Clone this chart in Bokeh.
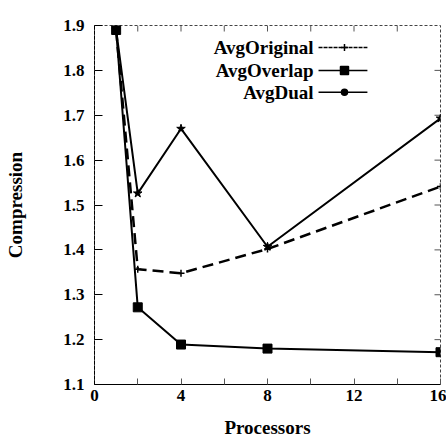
from bokeh.plotting import figure
from bokeh.models import Range1d, FixedTicker, Label
from bokeh.embed import file_html
from bokeh.resources import INLINE

# Compression achieved versus number of processors
processors = [1, 2, 4, 8, 16]
avg_original = [1.89, 1.357, 1.348, 1.402, 1.541]
avg_overlap = [1.89, 1.272, 1.189, 1.180, 1.172]
avg_dual = [1.89, 1.526, 1.670, 1.407, 1.693]

x_ticks = [0, 4, 8, 12, 16]
x_minor = [2, 6, 10, 14]
y_ticks = [1.1, 1.2, 1.3, 1.4, 1.5, 1.6, 1.7, 1.8, 1.9]
y_labels = ["1.1", "1.2", "1.3", "1.4", "1.5", "1.6", "1.7", "1.8", "1.9"]

FONT = "Liberation Serif"
X0, X1, Y0, Y1 = 0, 16, 1.1, 1.9
FRAME_W, FRAME_H = 346, 359  # plot area in pixels
TICK_PX = 6

p = figure(width=446, height=441, output_backend="svg", toolbar_location=None,
           x_range=Range1d(X0, X1), y_range=Range1d(Y0, Y1),
           min_border_left=94, min_border_right=6, min_border_top=25,
           min_border_bottom=57)
p.background_fill_color = "white"
p.border_fill_color = "white"
p.grid.visible = False
p.outline_line_color = "#444444"
p.outline_line_dash = "3 2"
p.outline_line_width = 1

# bottom axis
xa = p.xaxis[0]
xa.ticker = FixedTicker(ticks=x_ticks, minor_ticks=x_minor)
xa.major_tick_in = TICK_PX
xa.major_tick_out = 0
xa.minor_tick_in = TICK_PX
xa.minor_tick_out = 0
xa.major_tick_line_color = "#555555"
xa.minor_tick_line_color = "#555555"
xa.axis_line_color = "black"
xa.major_label_standoff = 5
xa.major_label_text_font = FONT
xa.major_label_text_font_style = "bold"
xa.major_label_text_font_size = "17px"
xa.major_label_text_color = "black"
xa.axis_label = "Processors"
xa.axis_label_standoff = 13
xa.axis_label_text_font = FONT
xa.axis_label_text_font_style = "bold"
xa.axis_label_text_font_size = "19px"
xa.axis_label_text_color = "black"

# left axis
ya = p.yaxis[0]
ya.ticker = FixedTicker(ticks=y_ticks)
ya.major_label_overrides = {t: s for t, s in zip(y_ticks, y_labels)}
ya.major_tick_in = 8
ya.major_tick_out = 0
ya.minor_tick_line_color = None
ya.major_tick_line_color = "black"
ya.axis_line_color = "black"
ya.axis_line_dash = "4 1"
ya.major_label_standoff = 10
ya.major_label_text_font = FONT
ya.major_label_text_font_style = "bold"
ya.major_label_text_font_size = "17px"
ya.major_label_text_color = "black"
ya.axis_label = "Compression"
ya.axis_label_standoff = 34
ya.axis_label_text_font = FONT
ya.axis_label_text_font_style = "bold"
ya.axis_label_text_font_size = "19px"
ya.axis_label_text_color = "black"

# inward tick marks along the top and right edges
dx = (X1 - X0) / FRAME_W * TICK_PX
dy = (Y1 - Y0) / FRAME_H * TICK_PX
top_x = sorted(t for t in x_ticks + x_minor if X0 < t < X1)
right_y = [t for t in y_ticks if Y0 < t < Y1]
p.segment(x0=top_x, y0=[Y1] * len(top_x), x1=top_x, y1=[Y1 - dy] * len(top_x),
          line_color="#555555", line_width=1)
p.segment(x0=[X1] * len(right_y), y0=right_y, x1=[X1 - dx] * len(right_y), y1=right_y,
          line_color="#555555", line_width=1)

# series
p.line(processors, avg_original, line_color="black", line_width=2.5, line_dash="11 6")
p.scatter(processors, avg_original, marker="cross", size=7, line_color="black", line_width=1.5)

p.line(processors, avg_overlap, line_color="black", line_width=2)
p.scatter(processors, avg_overlap, marker="square", size=9, fill_color="black", line_color="black")

p.line(processors, avg_dual, line_color="black", line_width=2)
p.scatter(processors, avg_dual, marker="star", size=9, fill_color="black", line_color="black")

# key, labels on the left and line samples on the right
key_names = ["AvgOriginal", "AvgOverlap", "AvgDual"]
key_rows = [1.851, 1.800, 1.751]
key_text_x = 10.13
key_x0, key_x1, key_xm = 10.36, 12.62, 11.56
key_dash = ["4 1", "solid", "solid"]
key_marker = ["cross", "square", "circle"]
key_size = [7, 8, 6]
for name, row, dash, mk, sz in zip(key_names, key_rows, key_dash, key_marker, key_size):
    p.add_layout(Label(x=key_text_x, y=row, text=name, text_align="right",
                       text_baseline="middle", text_font=FONT,
                       text_font_style="bold", text_font_size="19px",
                       text_color="black"))
    p.line([key_x0, key_x1], [row, row], line_color="black", line_width=1.5, line_dash=dash)
    p.scatter([key_xm], [row], marker=mk, size=sz, fill_color="black",
              line_color="black", line_width=1.5)

open("out.html", "w").write(file_html(p, INLINE))
